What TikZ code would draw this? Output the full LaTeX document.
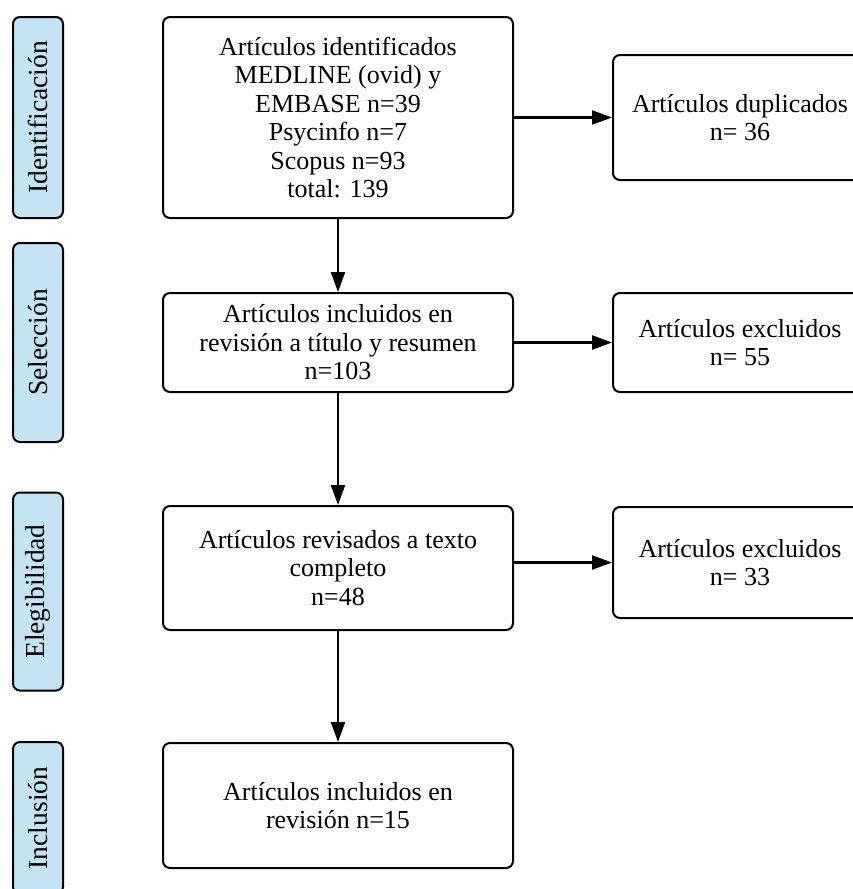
\documentclass[tikz,border=0pt]{standalone}
\usepackage{fontspec}
\setmainfont{Liberation Serif}
\usetikzlibrary{arrows.meta,positioning}
\definecolor{phasefill}{HTML}{C4E3F3}
\tikzset{
  mainbox/.style={draw=black, line width=2pt, rounded corners=7pt, align=center,
    font=\fontsize{26}{28.5}\selectfont, inner sep=0pt, fill=white},
  phasebox/.style={draw=black, line width=2pt, rounded corners=7pt, fill=phasefill,
    minimum height=50pt, inner sep=0pt, font=\fontsize{27.5}{28}\selectfont},
  flow/.style={line width=2.2pt, -{Triangle[length=20pt,width=14pt]}},
}
\begin{document}
\begin{tikzpicture}[x=1pt,y=-1pt]
\useasboundingbox (0,0) rectangle (853,889);
\clip (0,0) rectangle (853,889);
% phase labels
\node[phasebox, minimum width=201pt, rotate=90] (ph1) at (38,117.5) {Identificación};
\node[phasebox, minimum width=199pt, rotate=90] (ph2) at (38,342.5) {Selección};
\node[phasebox, minimum width=198pt, rotate=90] (ph3) at (38,591.5) {Elegibilidad};
\node[phasebox, minimum width=152pt, rotate=90] (ph4) at (38,818) {Inclusión};
% main column
\node[mainbox, minimum width=350pt, minimum height=201pt] (b1) at (338,117.5)
  {Artículos identificados\\MEDLINE (ovid) y\\EMBASE n=39\\Psycinfo n=7\\Scopus n=93\\total: 139};
\node[mainbox, minimum width=350pt, minimum height=99pt] (b2) at (338,342.5)
  {Artículos incluidos en\\revisión a título y resumen\\n=103};
\node[mainbox, minimum width=350pt, minimum height=124pt] (b3) at (338,568)
  {Artículos revisados a texto\\completo\\n=48};
\node[mainbox, minimum width=350pt, minimum height=125pt] (b4) at (338,805.5)
  {Artículos incluidos en\\revisión n=15};
% right column
\node[mainbox, minimum width=254pt, minimum height=125pt] (r1) at (740,117.5)
  {Artículos duplicados\\n= 36};
\node[mainbox, minimum width=254pt, minimum height=99pt] (r2) at (740,342.5)
  {Artículos excluidos\\n= 55};
\node[mainbox, minimum width=254pt, minimum height=111pt] (r3) at (740,562.5)
  {Artículos excluidos\\n= 33};
% connectors
\draw[flow] (b1.south) -- (b2.north);
\draw[flow] (b2.south) -- (b3.north);
\draw[flow] (b3.south) -- (b4.north);
\draw[flow] (b1.east |- r1.west) -- (r1.west);
\draw[flow] (b2.east) -- (r2.west);
\draw[flow] (b3.east |- r3.west) -- (r3.west);
\end{tikzpicture}
\end{document}
